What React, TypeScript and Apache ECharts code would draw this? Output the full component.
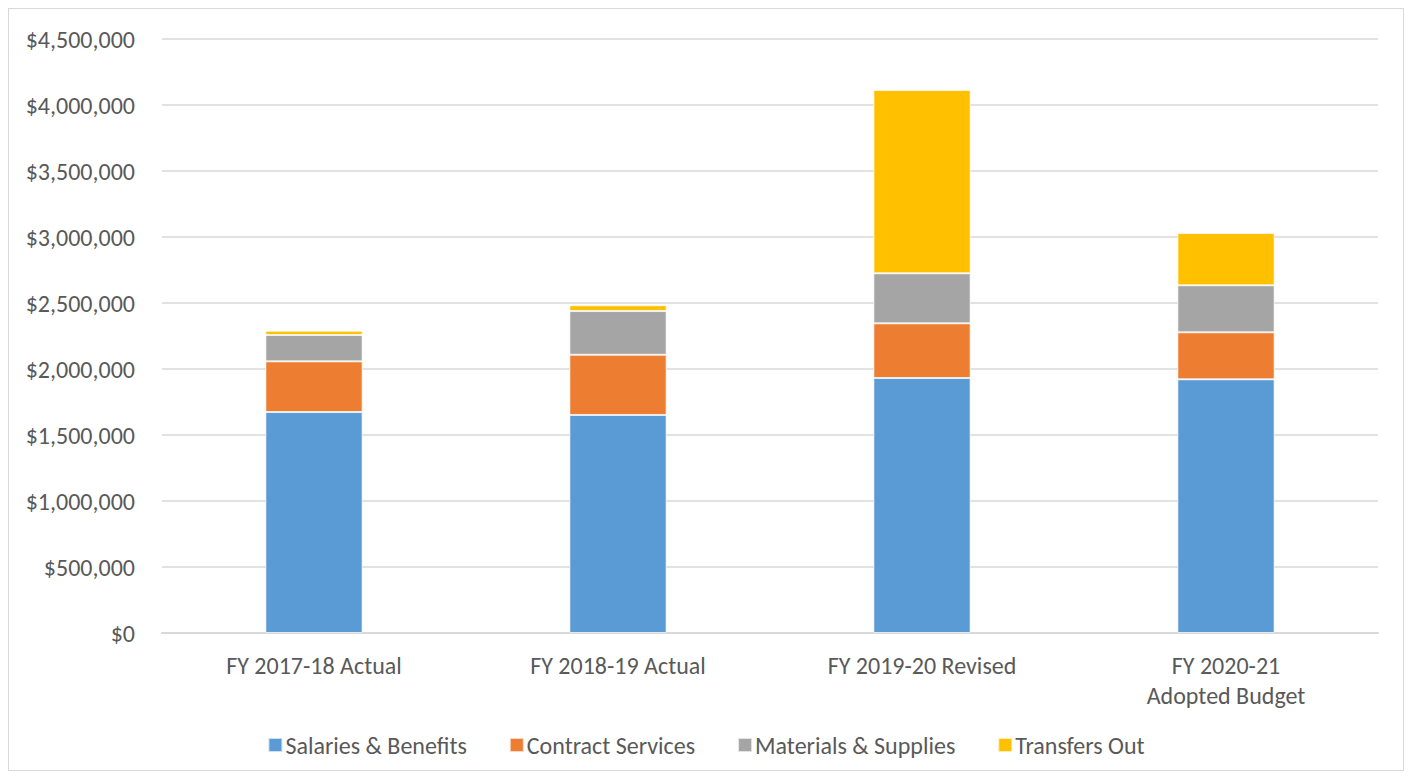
import React, { useEffect, useRef } from "react";
import * as echarts from "echarts";

const categories = ["FY 2017-18 Actual", "FY 2018-19 Actual", "FY 2019-20 Revised", "FY 2020-21\nAdopted Budget"];
const seriesNames = ["Salaries & Benefits", "Contract Services", "Materials & Supplies", "Transfers Out"];
const salaries = [1674000, 1652000, 1932000, 1922000];
const contract = [384000, 456000, 414000, 356000];
const materials = [200000, 331000, 379000, 356000];
const transfers = [32000, 44000, 1389000, 396000];
const colors = ["#5B9BD5", "#ED7D31", "#A5A5A5", "#FFC000"];

const FONT = "Carlito, 'Open Sans', sans-serif";
const FS = 24;

export default function App() {
  const ref = useRef<HTMLDivElement>(null);
  useEffect(() => {
    if (!ref.current) return;
    const chart = echarts.init(ref.current, undefined, { renderer: "svg" });
    const data = [salaries, contract, materials, transfers];
    chart.setOption({
      animation: false,
      textStyle: { fontFamily: FONT },
      grid: { left: 153, right: 25, top: 30, bottom: 137 },
      legend: {
        bottom: 8,
        left: "center",
        itemWidth: 14,
        itemHeight: 14,
        itemGap: 42,
        icon: "rect",
        textStyle: { fontFamily: FONT, fontSize: FS, color: "#595959", padding: [0, 0, 0, -2] },
        data: seriesNames,
      },
      xAxis: {
        type: "category",
        data: categories,
        axisTick: { show: false },
        axisLine: { lineStyle: { color: "#d9d9d9", width: 2 } },
        axisLabel: { color: "#595959", fontSize: FS, fontFamily: FONT, margin: 17, lineHeight: 30 },
      },
      yAxis: {
        type: "value",
        min: 0,
        max: 4500000,
        interval: 500000,
        axisLine: { show: false },
        axisTick: { show: false },
        splitLine: { lineStyle: { color: "#d9d9d9", width: 1.5 } },
        axisLabel: {
          color: "#595959",
          fontSize: FS,
          fontFamily: FONT,
          margin: 27,
          formatter: (v: number) => "$" + v.toLocaleString("en-US"),
        },
      },
      series: seriesNames.map((name, i) => ({
        name,
        type: "bar",
        stack: "total",
        barCategoryGap: "68%",
        data: data[i],
        itemStyle: { color: colors[i], borderColor: "rgba(255,255,255,0.7)", borderWidth: 1 },
      })),
    });
    return () => chart.dispose();
  }, []);
  return (
    <div
      ref={ref}
      style={{ width: 1394, height: 761, border: "1px solid #d9d9d9", background: "#fff" }}
    />
  );
}
